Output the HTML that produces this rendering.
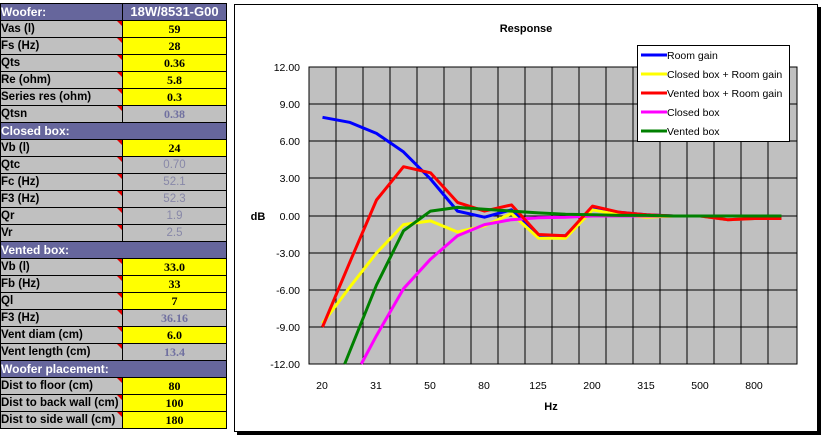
<!DOCTYPE html>
<html><head><meta charset="utf-8"><style>
body{margin:0;width:823px;height:437px;background:#fff;overflow:hidden;font-family:"Liberation Sans",Arial,sans-serif}
table{position:absolute;left:0;top:3px;border-collapse:collapse;width:227px;table-layout:fixed}
td{height:16px;padding:0;border:1px solid #000;font-size:11.5px;font-weight:bold;white-space:nowrap;overflow:hidden;line-height:16px}
td.l{background:#c0c0c0;color:#000;width:121px;position:relative;padding-left:0}
td.l:after{content:"";position:absolute;right:0;top:0;border-top:5px solid #e00000;border-left:5px solid transparent}
td.v{background:#ffff00;text-align:center;font-family:"Liberation Serif",serif;font-size:12px}
td.c{background:#c0c0c0;text-align:center;color:#7070a0;font-family:"Liberation Serif",serif;font-size:12px}
td.g{background:#c0c0c0;text-align:center;color:#8888a8;font-weight:normal}
tr.h td{background:#66669c;color:#fff;font-size:12px}
</style></head><body>
<table>
<tr class="h"><td style="width:121px">Woofer:</td><td style="text-align:center;font-size:13px">18W/8531-G00</td></tr>
<tr><td class="l">Vas (l)</td><td class="v">59</td></tr>
<tr><td class="l">Fs (Hz)</td><td class="v">28</td></tr>
<tr><td class="l">Qts</td><td class="v">0.36</td></tr>
<tr><td class="l">Re (ohm)</td><td class="v">5.8</td></tr>
<tr><td class="l">Series res (ohm)</td><td class="v">0.3</td></tr>
<tr><td class="l">Qtsn</td><td class="c">0.38</td></tr>
<tr class="h"><td colspan="2">Closed box:</td></tr>
<tr><td class="l">Vb (l)</td><td class="v">24</td></tr>
<tr><td class="l">Qtc</td><td class="g">0.70</td></tr>
<tr><td class="l">Fc (Hz)</td><td class="g">52.1</td></tr>
<tr><td class="l">F3 (Hz)</td><td class="g">52.3</td></tr>
<tr><td class="l">Qr</td><td class="g">1.9</td></tr>
<tr><td class="l">Vr</td><td class="g">2.5</td></tr>
<tr class="h"><td colspan="2">Vented box:</td></tr>
<tr><td class="l">Vb (l)</td><td class="v">33.0</td></tr>
<tr><td class="l">Fb (Hz)</td><td class="v">33</td></tr>
<tr><td class="l">Ql</td><td class="v">7</td></tr>
<tr><td class="l">F3 (Hz)</td><td class="c">36.16</td></tr>
<tr><td class="l">Vent diam (cm)</td><td class="v">6.0</td></tr>
<tr><td class="l">Vent length (cm)</td><td class="c">13.4</td></tr>
<tr class="h"><td colspan="2">Woofer placement:</td></tr>
<tr><td class="l">Dist to floor (cm)</td><td class="v">80</td></tr>
<tr><td class="l">Dist to back wall (cm)</td><td class="v">100</td></tr>
<tr><td class="l">Dist to side wall (cm)</td><td class="v">180</td></tr>
</table>
<svg width="823" height="437" style="position:absolute;left:0;top:0;overflow:hidden" font-family="Liberation Sans, Arial, sans-serif">
<rect x="237" y="7" width="584" height="428" fill="#000"/>
<rect x="234.5" y="4.5" width="583" height="427" fill="#fff" stroke="#000"/>
<text x="526" y="32" font-size="11" font-weight="bold" text-anchor="middle">Response</text>
<rect x="309" y="67" width="488" height="297" fill="#c0c0c0" stroke="#000"/>
<g stroke="#000" stroke-width="1">
<path d="M336 67V364M363 67V364M390 67V364M417 67V364M444 67V364M471 67V364M498 67V364M525 67V364M552 67V364M579 67V364M606 67V364M633 67V364M660 67V364M687 67V364M714 67V364M741 67V364M768 67V364"/>
<path d="M309 104H797M309 141H797M309 178H797M309 216H797M309 253H797M309 290H797M309 327H797"/>
</g>
<g font-size="10.5" text-anchor="end">
<text x="300" y="71">12.00</text><text x="300" y="108">9.00</text><text x="300" y="145">6.00</text><text x="300" y="182">3.00</text><text x="300" y="220">0.00</text><text x="300" y="257">-3.00</text><text x="300" y="294">-6.00</text><text x="300" y="331">-9.00</text><text x="300" y="368">-12.00</text>
</g>
<g font-size="10.5" text-anchor="middle">
<text x="322" y="389">20</text><text x="376" y="389">31</text><text x="430" y="389">50</text><text x="484" y="389">80</text><text x="538" y="389">125</text><text x="592" y="389">200</text><text x="646" y="389">315</text><text x="700" y="389">500</text><text x="754" y="389">800</text>
</g>
<text x="258" y="220" font-size="11" font-weight="bold" text-anchor="middle">dB</text>
<text x="551" y="410" font-size="11" font-weight="bold" text-anchor="middle">Hz</text>
<g fill="none" stroke-width="3" stroke-linejoin="round">
<polyline stroke="#0000ff" points="322.5,117.3 349.5,122.3 376.5,133.4 403.5,151.9 430.5,179 457.5,211.1 484.5,217.2 511.5,209.8 538.5,235.7 565.5,235.7 592.5,208.6 619.5,212.3 646.5,214.8 673.5,216 700.5,216 727.5,219.7 754.5,218.5 781.5,218.5"/>
<polyline stroke="#ffff00" points="322.5,323.3 349.5,287.5 376.5,253 403.5,224.6 430.5,220.9 457.5,232 484.5,225.9 511.5,213.5 538.5,238.2 565.5,238.2 592.5,209.8 619.5,214.8 646.5,217.2 673.5,216 700.5,216 727.5,219.7 754.5,218.5 781.5,218.5"/>
<polyline stroke="#ff00ff" points="361.3,364 376.5,335.6 403.5,288.7 430.5,259.2 457.5,235.7 484.5,224.6 511.5,219.7 538.5,217.8 565.5,217.2 592.5,216 619.5,216 646.5,216 673.5,216 700.5,216 727.5,216 754.5,216 781.5,216"/>
<polyline stroke="#ff0000" points="322.5,327 349.5,262.9 376.5,200 403.5,166.7 430.5,172.8 457.5,202.4 484.5,211.1 511.5,204.9 538.5,234.5 565.5,235.7 592.5,206.1 619.5,212.3 646.5,214.8 673.5,216 700.5,216 727.5,219.7 754.5,218.5 781.5,218.5"/>
<polyline stroke="#008000" points="344.7,364 349.5,352 376.5,285 403.5,230.8 430.5,211.1 457.5,207.4 484.5,209.2 511.5,211.1 538.5,212.9 565.5,214.2 592.5,214.8 619.5,215.4 646.5,215.4 673.5,216 700.5,216 727.5,216 754.5,216 781.5,216"/>
</g>
<rect x="637.5" y="45.5" width="152" height="96" fill="#fff" stroke="#000"/>
<g stroke-width="3"><path stroke="#0000ff" d="M641 55H667"/><path stroke="#ffff00" d="M641 74H667"/><path stroke="#ff0000" d="M641 93H667"/><path stroke="#ff00ff" d="M641 112H667"/><path stroke="#008000" d="M641 131H667"/></g>
<g font-size="10.5"><text x="667" y="59">Room gain</text><text x="667" y="78">Closed box + Room gain</text><text x="667" y="97">Vented box + Room gain</text><text x="667" y="116">Closed box</text><text x="667" y="135">Vented box</text></g>
</svg>
</body></html>
